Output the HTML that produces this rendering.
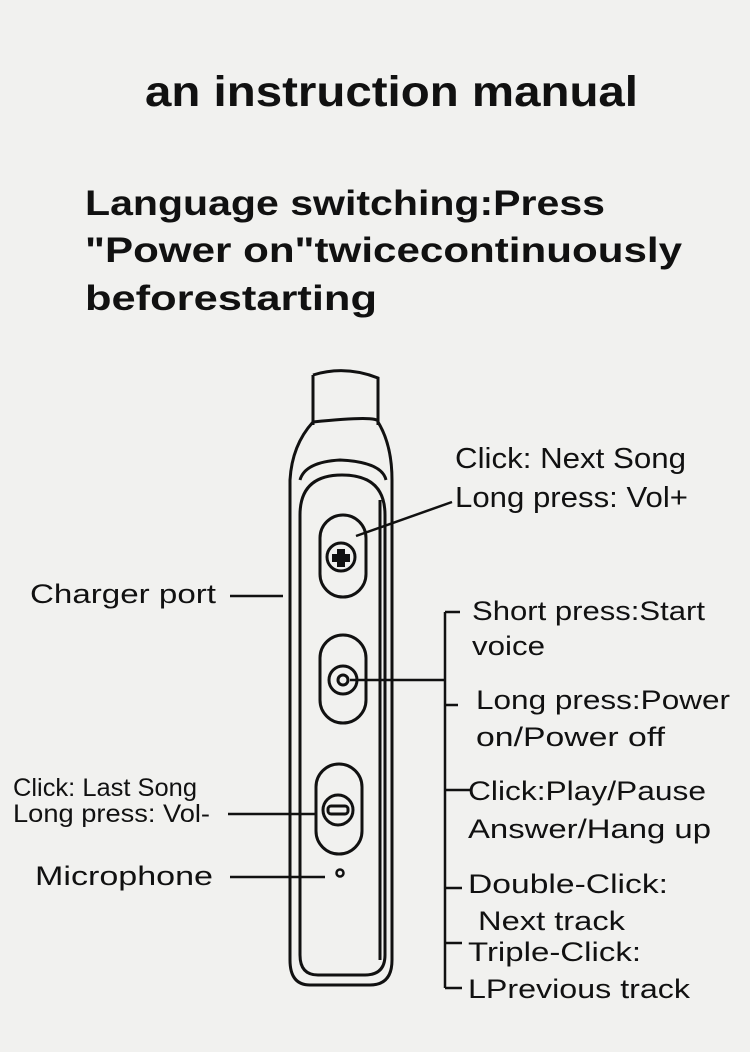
<!DOCTYPE html>
<html><head><meta charset="utf-8"><style>
html,body{margin:0;padding:0;background:#f1f1ef;}
svg{display:block;}
text{font-family:"Liberation Sans",sans-serif;fill:#111;}
</style></head><body>
<svg width="750" height="1052" viewBox="0 0 750 1052" xmlns="http://www.w3.org/2000/svg">
<rect width="750" height="1052" fill="#f1f1ef"/>
<text x="145" y="106" font-size="43" font-weight="bold" textLength="493" lengthAdjust="spacingAndGlyphs">an instruction manual</text>
<text x="85" y="215" font-size="35" font-weight="bold" textLength="520" lengthAdjust="spacingAndGlyphs">Language switching:Press</text>
<text x="85" y="262" font-size="35" font-weight="bold" textLength="597" lengthAdjust="spacingAndGlyphs">"Power on"twicecontinuously</text>
<text x="85" y="310" font-size="35" font-weight="bold" textLength="292" lengthAdjust="spacingAndGlyphs">beforestarting</text>

<g fill="none" stroke="#111" stroke-width="3">
<path d="M313 375 Q345 365 378 378 L378 425 M313 375 L313 425"/>
<path d="M313 422 Q380 415 378 422 Q392 445 392 480 L392 960 Q392 985 370 985 L310 985 Q290 985 290 960 L290 480 Q292 445 313 422 Z"/>
<path d="M300 480 Q305 462 340 460 Q382 462 386 480"/>
<path d="M300 515 Q300 475 342 475 Q385 475 385 515 L385 955 Q385 975 365 975 L318 975 Q300 975 300 955 Z"/>
<path d="M380 500 L380 960"/>
<rect x="320" y="515" width="46" height="82" rx="23"/>
<rect x="320" y="635" width="46" height="88" rx="23"/>
<rect x="316" y="764" width="46" height="90" rx="23"/>
<circle cx="341" cy="557" r="14"/>
<circle cx="343" cy="680" r="14"/>
<circle cx="343" cy="680" r="5"/>
<circle cx="338" cy="810" r="15"/>
<rect x="328" y="806" width="20" height="8" rx="3"/>
<circle cx="340" cy="873" r="3.5" stroke-width="2.5"/>
</g>
<path d="M337 549h8v5h5v8h-5v5h-8v-5h-5v-8h5z" fill="#111"/>

<g stroke="#111" stroke-width="2.5" fill="none">
<path d="M356 536 L452 502"/>
<path d="M230 596 H283"/>
<path d="M350 680 H446"/>
<path d="M445 612 V988"/>
<path d="M445 612 H460 M445 705 H458 M445 790 H470 M445 888 H462 M445 943 H462 M445 988 H462"/>
<path d="M228 814 H316"/>
<path d="M230 877 H325"/>
</g>

<g font-size="29">
<text x="455" y="468" textLength="231" lengthAdjust="spacingAndGlyphs">Click: Next Song</text>
<text x="455" y="507" textLength="233" lengthAdjust="spacingAndGlyphs">Long press: Vol+</text>
</g>
<g font-size="27">
<text x="30" y="603" textLength="186" lengthAdjust="spacingAndGlyphs">Charger port</text>
<text x="472" y="620" textLength="233" lengthAdjust="spacingAndGlyphs">Short press:Start</text>
<text x="472" y="655" textLength="73" lengthAdjust="spacingAndGlyphs">voice</text>
<text x="476" y="709" textLength="254" lengthAdjust="spacingAndGlyphs">Long press:Power</text>
<text x="476" y="746" textLength="189" lengthAdjust="spacingAndGlyphs">on/Power off</text>
<text x="468" y="800" textLength="238" lengthAdjust="spacingAndGlyphs">Click:Play/Pause</text>
<text x="468" y="838" textLength="243" lengthAdjust="spacingAndGlyphs">Answer/Hang up</text>
<text x="468" y="893" textLength="200" lengthAdjust="spacingAndGlyphs">Double-Click:</text>
<text x="478" y="930" textLength="147" lengthAdjust="spacingAndGlyphs">Next track</text>
<text x="468" y="961" textLength="173" lengthAdjust="spacingAndGlyphs">Triple-Click:</text>
<text x="468" y="998" textLength="222" lengthAdjust="spacingAndGlyphs">LPrevious track</text>
<text x="35" y="885" textLength="178" lengthAdjust="spacingAndGlyphs">Microphone</text>
</g>
<g font-size="25">
<text x="13" y="796" textLength="184" lengthAdjust="spacingAndGlyphs">Click: Last Song</text>
<text x="13" y="822" textLength="197" lengthAdjust="spacingAndGlyphs">Long press: Vol-</text>
</g>
</svg>
</body></html>
